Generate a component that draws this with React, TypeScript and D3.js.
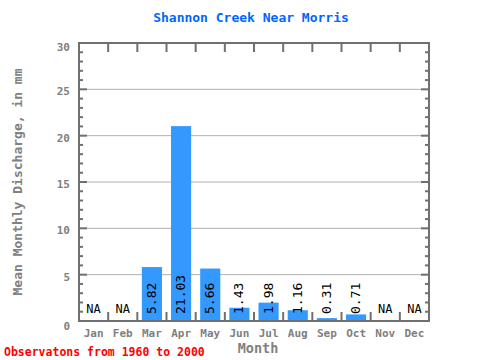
import React from "react";
import * as d3 from "d3";

const months = ["Jan", "Feb", "Mar", "Apr", "May", "Jun", "Jul", "Aug", "Sep", "Oct", "Nov", "Dec"];
const discharge: (number | null)[] = [null, null, 5.82, 21.03, 5.66, 1.43, 1.98, 1.16, 0.31, 0.71, null, null];
const yTicks = [0, 5, 10, 15, 20, 25, 30];

const FONT = "'DejaVu Sans Mono', monospace";
const GRAY = "#808080";

const App = () => {
  const W = 480;
  const H = 360;
  const margin = { top: 43, right: 51, bottom: 39, left: 79 };
  const iw = W - margin.left - margin.right;
  const ih = H - margin.top - margin.bottom;

  const x = d3.scaleBand().domain(months).range([0, iw]).paddingInner(0.31).paddingOuter(0.155);
  const slot = d3.scaleBand().domain(months).range([0, iw]);
  const y = d3.scaleLinear().domain([0, 30]).range([ih, 0]);
  const minor = d3.range(0, 31, 1);

  return (
    <svg width={W} height={H} style={{ position: "absolute", left: 0, top: 0, background: "#fff" }}>
      <text x={251} y={22} textAnchor="middle" fill="#0066ff" fontFamily={FONT} fontWeight="bold" fontSize={13}>
        Shannon Creek Near Morris
      </text>
      <g transform={`translate(${margin.left},${margin.top})`}>
        {yTicks.slice(1, -1).map((t) => (
          <line key={t} x1={0} x2={iw} y1={y(t)} y2={y(t)} stroke="#b0b0b0" strokeWidth={1} />
        ))}
        {months.map((m, i) => {
          const v = discharge[i];
          const cx = (x(m) as number) + x.bandwidth() / 2;
          if (v === null) {
            return (
              <text key={m} x={cx} y={ih - 8} textAnchor="middle" fontFamily={FONT} fontSize={12} fill="#000">
                NA
              </text>
            );
          }
          return (
            <g key={m}>
              <rect x={x(m)} y={y(v)} width={x.bandwidth()} height={ih - y(v)} fill="#3399ff" />
              <text
                transform={`translate(${cx + 4},${ih - 7}) rotate(-90)`}
                fontFamily={FONT}
                fontSize={13}
                fill="#000"
              >
                {v.toFixed(2)}
              </text>
            </g>
          );
        })}
        {/* frame */}
        <rect x={0} y={0} width={iw} height={ih} fill="none" stroke="#707070" strokeWidth={2} />
        {/* month ticks */}
        {months.slice(1).map((m) => {
          const px = slot(m) as number;
          return (
            <g key={m}>
              <line x1={px} x2={px} y1={0} y2={9} stroke="#707070" strokeWidth={2} />
              <line x1={px} x2={px} y1={ih} y2={ih - 9} stroke="#707070" strokeWidth={2} />
            </g>
          );
        })}
        {/* y ticks */}
        {minor.map((t) => {
          const len = t % 5 === 0 ? 8 : 4;
          return (
            <g key={t}>
              <line x1={0} x2={len} y1={y(t)} y2={y(t)} stroke="#707070" strokeWidth={2} />
              <line x1={iw} x2={iw - len} y1={y(t)} y2={y(t)} stroke="#707070" strokeWidth={2} />
            </g>
          );
        })}
        {yTicks.map((t) => (
          <text
            key={t}
            x={-9}
            y={y(t) + (t === 0 ? 9 : t === 30 ? 8 : 6)}
            textAnchor="end"
            fontFamily={FONT}
            fontWeight="bold"
            fontSize={11}
            fill={GRAY}
          >
            {t}
          </text>
        ))}
        {months.map((m) => (
          <text
            key={m}
            x={(slot(m) as number) + slot.bandwidth() / 2}
            y={ih + 16}
            textAnchor="middle"
            fontFamily={FONT}
            fontWeight="bold"
            fontSize={11}
            fill={GRAY}
          >
            {m}
          </text>
        ))}
      </g>
      <text x={258} y={353} textAnchor="middle" fontFamily={FONT} fontWeight="bold" fontSize={13.5} fill={GRAY}>
        Month
      </text>
      <text
        transform="translate(22,182) rotate(-90)"
        textAnchor="middle"
        fontFamily={FONT}
        fontWeight="bold"
        fontSize={13}
        fill={GRAY}
      >
        Mean Monthly Discharge, in mm
      </text>
      <text x={4} y={356} fontFamily={FONT} fontWeight="bold" fontSize={11.5} fill="#ff0000">
        Observatons from 1960 to 2000
      </text>
    </svg>
  );
};

export default App;
